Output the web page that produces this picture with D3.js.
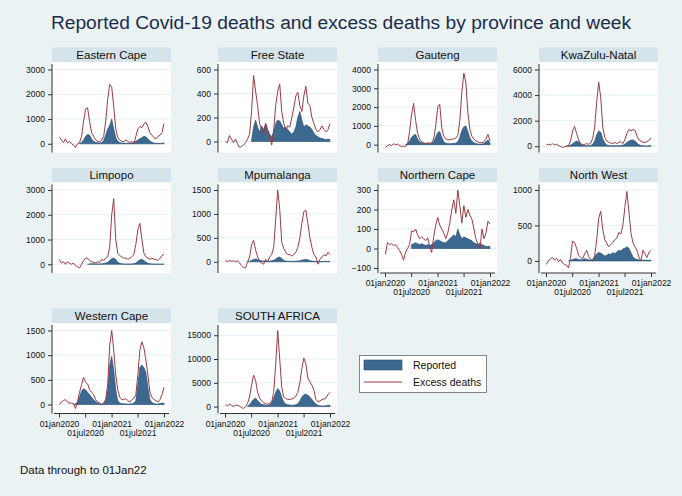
<!DOCTYPE html>
<html>
<head>
<meta charset="utf-8">
<script src="https://cdn.jsdelivr.net/npm/d3@7"></script>
<style>
html,body{margin:0;padding:0;background:#eaf2f3;}
svg{display:block;font-family:"Liberation Sans",Arial,sans-serif;}
</style>
</head>
<body>
<svg id="chart" width="682" height="496"></svg>
<script>
// ---------------- DATA ----------------
const lead = n => Array(n).fill(null);
// biweekly observation dates, 04 Jan 2020 .. 01 Jan 2022
const startDate = new Date(2020, 0, 4);
const nObs = 53;
const xTickDates = ["2020-01-01", "2020-07-01", "2021-01-01", "2021-07-01", "2022-01-01"];
const xTickLabels = ["01jan2020", "01jul2020", "01jan2021", "01jul2021", "01jan2022"];

const provinces = ["Eastern Cape", "Free State", "Gauteng", "KwaZulu-Natal",
  "Limpopo", "Mpumalanga", "Northern Cape", "North West", "Western Cape", "SOUTH AFRICA"];

const excessEC = [280,150,50,200,30,100,0,-50,-150,0,50,300,900,1400,1450,900,450,300,150,100,80,150,300,900,1800,2400,2300,1500,600,250,150,100,80,150,100,50,100,0,300,600,700,650,800,870,700,450,350,250,200,300,350,450,820];
const reportedEC = [...lead(10),20,50,150,300,380,350,200,100,60,40,30,50,120,350,600,750,1000,600,250,100,50,30,30,20,20,20,30,50,100,150,200,250,300,280,200,120,60,30,20,10,10,20,40];

const excessFS = [0,-10,50,20,-10,20,-20,-50,-40,-30,-10,20,60,250,550,420,300,150,100,60,150,80,50,-30,100,300,420,480,250,150,100,130,120,200,280,380,410,300,250,380,460,320,300,200,150,100,80,100,130,100,80,100,150];
const reportedFS = [...lead(13),10,120,180,120,80,130,100,150,100,60,40,80,150,180,170,140,110,120,100,80,60,80,120,200,250,180,120,140,130,120,100,70,50,40,30,25,20,15,20,15];

const excessGP = [-150,-50,0,-50,50,0,30,-50,-100,-80,-100,0,700,1600,2200,1300,600,300,150,100,50,100,80,100,300,1000,2000,2150,900,450,300,280,250,300,300,350,500,1300,2800,3800,3300,1700,800,450,300,200,150,100,100,150,300,550,200];
const reportedGP = [...lead(10),10,50,200,400,500,550,300,150,100,80,60,80,60,80,150,400,650,700,400,150,80,60,50,60,60,80,150,400,750,950,1000,700,350,200,100,60,40,30,30,60,150,250,100];

const excessKZN = [100,150,100,200,100,150,50,0,-100,-50,0,50,400,1200,1550,1000,500,200,100,150,200,150,250,600,1500,3500,5000,3800,1500,700,400,300,250,200,300,200,300,350,200,500,1000,1300,1200,1300,1250,800,500,400,300,300,350,450,650];
const reportedKZN = [...lead(10),10,30,80,200,320,400,350,200,100,60,40,40,60,150,400,900,1200,1100,600,250,100,60,40,30,30,30,40,50,80,150,300,400,480,500,400,250,120,60,30,20,20,30,50];

const excessLP = [200,50,100,0,100,50,0,50,-50,-100,-150,0,150,250,250,150,100,80,50,100,80,200,150,250,300,700,2000,2650,1000,450,350,300,250,250,200,250,300,400,800,1400,1650,1000,450,300,250,200,250,200,200,150,250,350,400];
const reportedLP = [...lead(14),0,10,20,20,15,15,15,20,30,50,80,150,220,250,200,80,40,20,15,10,10,10,15,20,50,120,180,200,150,80,40,20,10,10,10,5,5,5,5];

const excessMP = [30,0,30,10,20,0,20,-20,-80,-120,-130,0,100,350,450,250,100,20,-30,-50,50,0,100,150,300,900,1500,1100,400,280,200,150,150,120,150,200,300,500,800,1050,1080,800,500,300,150,100,-50,50,100,150,120,200,150];
const reportedMP = [...lead(11),0,10,30,50,60,50,30,20,15,15,10,15,20,30,60,90,100,70,30,15,10,10,10,10,10,15,20,35,45,50,40,25,15,10,5,5,5,5,5,5,5,5];

const excessNC = [-30,30,20,25,15,20,5,-10,-30,-60,-20,0,20,90,85,100,70,50,60,50,40,55,10,-20,60,120,160,120,100,80,50,80,130,200,250,180,300,220,130,220,160,200,170,150,100,50,20,0,100,50,80,140,125];
const reportedNC = [...lead(13),20,25,30,25,20,25,20,15,20,15,20,30,40,45,40,35,30,30,40,50,60,70,60,100,70,50,60,55,50,45,40,30,25,20,30,20,15,10,10,10];

const excessNW = [-50,0,30,50,10,40,-10,20,-30,-50,-60,-100,50,280,260,180,80,50,30,100,150,60,20,0,80,300,600,700,450,300,250,200,230,260,300,320,400,380,500,750,980,700,400,260,200,150,50,0,150,100,50,120,150];
const reportedNW = [...lead(11),0,10,20,30,30,20,15,20,30,25,15,10,20,60,100,120,110,90,70,80,100,90,120,100,130,150,140,170,180,200,180,120,60,30,20,15,10,10,10,10,10,10];

const excessWC = [0,50,80,100,50,30,30,20,-80,50,250,400,550,450,420,300,250,200,100,50,30,0,30,100,400,1200,1500,1100,600,300,150,100,100,120,80,50,100,130,200,600,1100,1270,1150,900,600,250,150,100,80,50,100,200,350];
const reportedWC = [...lead(7),0,10,60,150,280,320,300,250,200,150,100,60,30,15,10,20,80,300,800,980,700,300,80,30,20,15,15,10,10,15,30,80,400,750,800,750,650,350,100,40,20,10,10,20,30,30];

const excessSA = [400,200,500,300,0,300,250,100,-200,-400,0,700,2000,4500,6600,5500,3000,1800,1200,800,600,500,700,1000,3000,9000,16000,10000,4000,2000,1700,1500,1500,1600,1800,2200,3000,5000,8000,10200,9000,6000,5200,4500,3500,1500,1000,1200,1500,1600,1800,2500,3000];
const reportedSA = [...lead(11),100,400,1000,1500,1800,1300,800,500,400,300,300,400,800,1800,3000,3800,3300,2000,1000,500,400,350,300,300,400,600,1200,2000,2500,2600,2400,2000,1500,1000,500,300,200,150,150,200,300,300];

const yTicksEC = [0,1000,2000,3000];
const yTicksFS = [0,200,400,600];
const yTicksGP = [0,1000,2000,3000,4000];
const yTicksKZN = [0,2000,4000,6000];
const yTicksLP = [0,1000,2000,3000];
const yTicksMP = [0,500,1000,1500];
const yTicksNC = [-100,0,100,200,300];
const yTicksNW = [0,500,1000];
const yTicksWC = [0,500,1000,1500];
const yTicksSA = [0,5000,10000,15000];

const excessAll = [excessEC, excessFS, excessGP, excessKZN, excessLP, excessMP, excessNC, excessNW, excessWC, excessSA];
const reportedAll = [reportedEC, reportedFS, reportedGP, reportedKZN, reportedLP, reportedMP, reportedNC, reportedNW, reportedWC, reportedSA];
const yTicksAll = [yTicksEC, yTicksFS, yTicksGP, yTicksKZN, yTicksLP, yTicksMP, yTicksNC, yTicksNW, yTicksWC, yTicksSA];
const showXAxis = [false,false,false,false,false,false,true,true,true,true];

const legendLabels = ["Reported", "Excess deaths"];
const titleText = "Reported Covid-19 deaths and excess deaths by province and week";
const noteText = "Data through to 01Jan22";

// ---------------- LAYOUT / STYLE ----------------
const W = 682, H = 496;
const colLeft = [52, 218, 378, 539];
const colWidth = 119;
const rowTop = [47.5, 168, 308.5];
const titleH = 14.5;
const plotH = 90.5;
const C = {
  bg: "#eaf2f3", strip: "#d5e3ea", plot: "#ffffff", grid: "#e7eff1",
  area: "#3d6890", areaStroke: "#1e4a72", line: "#9b3b45", text: "#111111", title: "#1c2c4c"
};

const dates = d3.range(nObs).map(i => d3.timeDay.offset(startDate, 14 * i));
const parse = d3.timeParse("%Y-%m-%d");

const svg = d3.select("#chart");
svg.append("rect").attr("width", W).attr("height", H).attr("fill", C.bg);

svg.append("text").attr("x", 341).attr("y", 29).attr("text-anchor", "middle")
  .attr("font-size", 19.2).attr("fill", C.title).text(titleText);

provinces.forEach((name, k) => {
  const col = k % 4, row = Math.floor(k / 4);
  const left = colLeft[col], top = rowTop[row];
  const pTop = top + titleH, pBot = pTop + plotH;
  const g = svg.append("g");

  // strip
  g.append("rect").attr("x", left).attr("y", top).attr("width", colWidth).attr("height", titleH).attr("fill", C.strip);
  g.append("text").attr("x", left + colWidth / 2).attr("y", top + titleH / 2 + 4)
    .attr("text-anchor", "middle").attr("font-size", 11.5).attr("fill", C.text).text(name);
  // plot region
  g.append("rect").attr("x", left).attr("y", pTop).attr("width", colWidth).attr("height", plotH).attr("fill", C.plot);

  const ex = excessAll[k], rp = reportedAll[k], ticks = yTicksAll[k];
  const yMin = Math.min(d3.min(ex), d3.min(rp.filter(v => v != null)), ticks[0]);
  const yMax = Math.max(d3.max(ex), ticks[ticks.length - 1]);
  const y = d3.scaleLinear().domain([yMin, yMax]).range([pBot - 5, pTop + 7.5]);
  const x = d3.scaleTime().domain([parse("2020-01-01"), parse("2022-01-01")]).range([left + 7, left + 112]);

  // grid
  g.selectAll(".grid").data(ticks).join("line")
    .attr("x1", left).attr("x2", left + colWidth)
    .attr("y1", d => y(d)).attr("y2", d => y(d))
    .attr("stroke", C.grid).attr("stroke-width", 1);

  // area
  const area = d3.area().defined((d, i) => rp[i] != null)
    .x((d, i) => x(dates[i])).y0(y(0)).y1((d, i) => y(rp[i]));
  g.append("path").datum(rp).attr("d", area).attr("fill", C.area)
    .attr("stroke", C.areaStroke).attr("stroke-width", 0.6);

  // line
  const line = d3.line().x((d, i) => x(dates[i])).y(d => y(d));
  g.append("path").datum(ex).attr("d", line).attr("fill", "none")
    .attr("stroke", C.line).attr("stroke-width", 1).attr("stroke-linejoin", "round");

  // y axis
  const yAx = g.append("g").attr("transform", `translate(${left},0)`)
    .call(d3.axisLeft(y).tickValues(ticks).tickSize(4).tickPadding(3).tickFormat(d3.format("d")));
  yAx.select(".domain").attr("d", `M0,${pTop + 2}V${pBot}`).attr("stroke", "#333");
  yAx.selectAll(".tick line").attr("stroke", "#333");
  yAx.selectAll("text").attr("font-size", 8.5).attr("fill", C.text).attr("font-family", "Liberation Sans, Arial, sans-serif");

  if (showXAxis[k]) {
    const tv = xTickDates.map(parse);
    const xAx = g.append("g").attr("transform", `translate(0,${pBot})`)
      .call(d3.axisBottom(x).tickValues(tv).tickSize(4).tickFormat((d, i) => xTickLabels[i]));
    xAx.select(".domain").attr("d", `M${left + 2},0H${left + colWidth - 2}`).attr("stroke", "#333");
    xAx.selectAll(".tick line").attr("stroke", "#333");
    xAx.selectAll("text").attr("font-size", 8.5).attr("fill", C.text)
      .attr("font-family", "Liberation Sans, Arial, sans-serif")
      .attr("y", (d, i) => i % 2 === 0 ? 7 : 16);
  }
});

// legend
const lg = svg.append("g");
lg.append("rect").attr("x", 359.5).attr("y", 355.5).attr("width", 127).attr("height", 37)
  .attr("fill", "#ffffff").attr("stroke", "#666").attr("stroke-width", 0.8);
lg.append("rect").attr("x", 364).attr("y", 360).attr("width", 38).attr("height", 10)
  .attr("fill", C.area).attr("stroke", C.areaStroke).attr("stroke-width", 0.6);
lg.append("line").attr("x1", 364).attr("x2", 402).attr("y1", 382).attr("y2", 382)
  .attr("stroke", C.line).attr("stroke-width", 1);
lg.selectAll(".lt").data(legendLabels).join("text")
  .attr("x", 413).attr("y", (d, i) => i === 0 ? 369 : 386)
  .attr("font-size", 10.5).attr("fill", C.text).text(d => d);

svg.append("text").attr("x", 20).attr("y", 474).attr("font-size", 11.5).attr("fill", C.text).text(noteText);
</script>
</body>
</html>
